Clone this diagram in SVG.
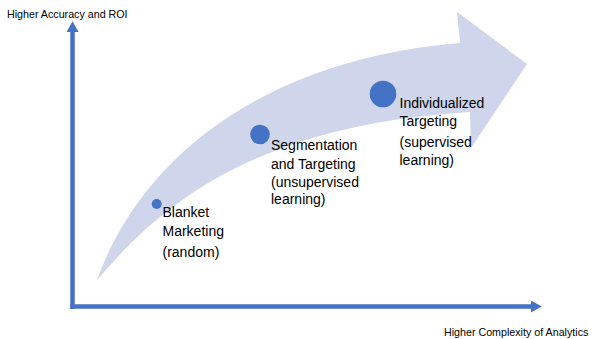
<svg xmlns="http://www.w3.org/2000/svg" width="596" height="339" viewBox="0 0 596 339">
  <style>
    .lbl { font-family: "Liberation Sans", Arial, sans-serif; font-size: 14px; fill: #000; }
    .axis-lbl { font-family: "Liberation Sans", Arial, sans-serif; font-size: 10.7px; fill: #000; }
    .axis { stroke: #4472C4; stroke-width: 4.5; fill: none; }
    .dot { fill: #4472C4; }
    .swoosh { fill: #CFD5EA; }
  </style>
  <defs>
    <marker id="axisHead" markerUnits="userSpaceOnUse" markerWidth="12" markerHeight="12" viewBox="0 0 10 11" refX="1" refY="5.5" orient="auto">
      <path d="M0,0 L10,5.5 L0,11 Z" fill="#4472C4"/>
    </marker>
  </defs>

  <!-- background -->
  <rect width="596" height="339" fill="#fff"/>

  <!-- curved progression arrow -->
  <g id="progress-arrow">
    <path class="swoosh" d="M97,280 C140,160 260,60 460,43 L457,12 L527,64 L471,148 L470,112 C260,125 165,200 97,280 Z"/>
  </g>

  <!-- axes -->
  <g id="connectors">
    <line class="axis" x1="72.5" y1="309" x2="72.5" y2="31" marker-end="url(#axisHead)"/>
    <line class="axis" x1="70.3" y1="306.5" x2="532" y2="306.5" marker-end="url(#axisHead)"/>
  </g>

  <g id="y-axis-label">
    <text class="axis-lbl" x="7" y="17.5">Higher Accuracy and ROI</text>
  </g>
  <g id="x-axis-label">
    <text class="axis-lbl" x="444" y="335.5">Higher Complexity of Analytics</text>
  </g>

  <g id="blanket-marketing">
    <circle class="dot" cx="156.7" cy="204" r="5"/>
    <text class="lbl" x="162.5" y="217">Blanket</text>
    <text class="lbl" x="162.5" y="236">Marketing</text>
    <text class="lbl" x="162.5" y="257">(random)</text>
  </g>

  <g id="segmentation-targeting">
    <circle class="dot" cx="260" cy="134.5" r="9.8"/>
    <text class="lbl" x="271" y="150">Segmentation</text>
    <text class="lbl" x="271" y="168.5">and Targeting</text>
    <text class="lbl" x="271" y="186.5">(unsupervised</text>
    <text class="lbl" x="271" y="204">learning)</text>
  </g>

  <g id="individualized-targeting">
    <circle class="dot" cx="383" cy="94" r="13.3"/>
    <text class="lbl" x="399.5" y="107.5">Individualized</text>
    <text class="lbl" x="399.5" y="126">Targeting</text>
    <text class="lbl" x="399.5" y="147">(supervised</text>
    <text class="lbl" x="399.5" y="164.5">learning)</text>
  </g>
</svg>
